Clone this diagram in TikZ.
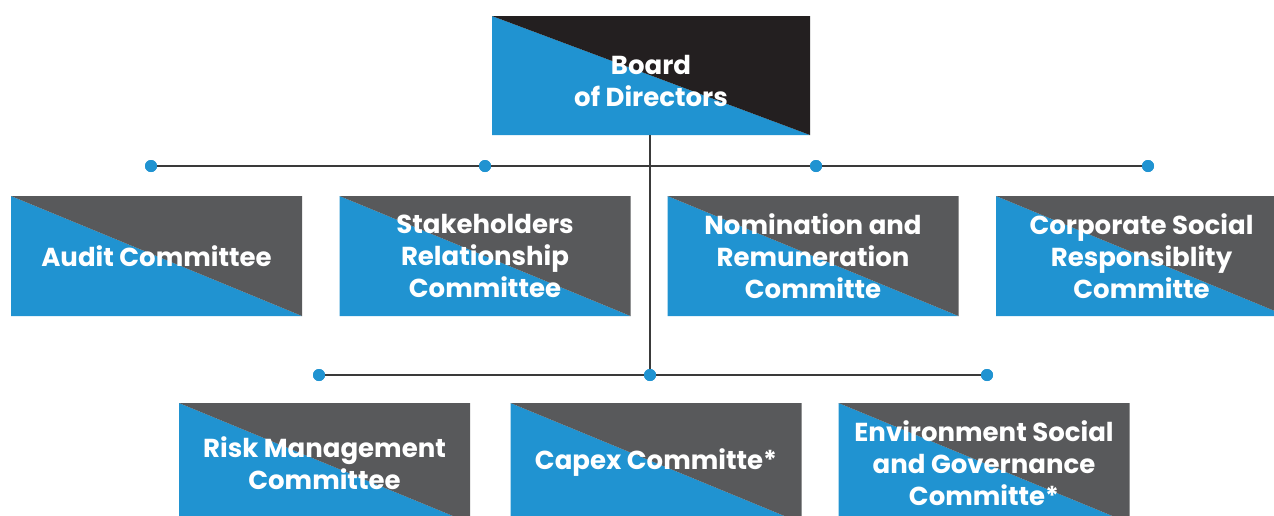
\documentclass[tikz,border=0pt]{standalone}
\usepackage{fontspec}
\setmainfont{Poppins}
\definecolor{cblue}{HTML}{2093D1}
\definecolor{cgray}{HTML}{58595B}
\definecolor{cblack}{HTML}{231F20}
\definecolor{cline}{HTML}{3A3A3A}
\tikzset{
  splitbox/.style={rectangle, minimum width=291pt, minimum height=120pt, inner sep=0pt,
    text=white, font=\fontsize{26}{32}\selectfont\bfseries, align=center,
    path picture={
      \fill[cblue] (path picture bounding box.north west) -- (path picture bounding box.south west) -- (path picture bounding box.south east) -- cycle;
      \fill[#1] (path picture bounding box.north west) -- (path picture bounding box.north east) -- (path picture bounding box.south east) -- cycle;
    }},
  splitbox/.default=cgray,
  dot/.style={circle, fill=cblue, minimum size=12pt, inner sep=0pt},
  conn/.style={draw=cline, line width=1.6pt},
}
\begin{document}
\begin{tikzpicture}[x=1pt,y=-1pt]
\useasboundingbox (0,0) rectangle (1274,515);
\clip (0,0) rectangle (1274,515);
% top
\node[splitbox=cblack, minimum width=318pt, minimum height=119pt] (board) at (651,75.5)
  {\raisebox{-15pt}[0pt][0pt]{\begin{tabular}{@{}c@{}}Board\\of Directors\end{tabular}}};
\coordinate (j1) at (650,166);
\node[dot] (d1) at (151,166) {};
\node[dot] (d2) at (485,166) {};
\node[dot] (d3) at (816,166) {};
\node[dot] (d4) at (1148,166) {};
\node[dot] (e1) at (319,375) {};
\node[dot] (e2) at (650,375) {};
\node[dot] (e3) at (987,375) {};
\draw[conn] (d1.center) -- (d4.center);
\draw[conn] (e1.center) -- (e3.center);
\draw[conn] (board.south -| j1) -- (e2.center);
\node[dot] at (d1) {};
\node[dot] at (d2) {};
\node[dot] at (d3) {};
\node[dot] at (d4) {};
\node[dot] at (e1) {};
\node[dot] at (e2) {};
\node[dot] at (e3) {};
% row 2
\node[splitbox] (audit) at (156.5,256) {Audit Committee};
\node[splitbox] (stake) at (485,256) {Stakeholders\\Relationship\\Committee};
\node[splitbox] (nom) at (813,256) {Nomination and\\Remuneration\\Committe};
\node[splitbox] (csr) at (1141.5,256) {Corporate Social\\Responsiblity\\Committe};
% row 3
\node[splitbox] (risk) at (324.5,463) {Risk Management\\Committee};
\node[splitbox] (capex) at (656,463) {Capex Committe*};
\node[splitbox] (esg) at (984,463) {Environment Social\\and Governance\\Committe*};
\end{tikzpicture}
\end{document}
